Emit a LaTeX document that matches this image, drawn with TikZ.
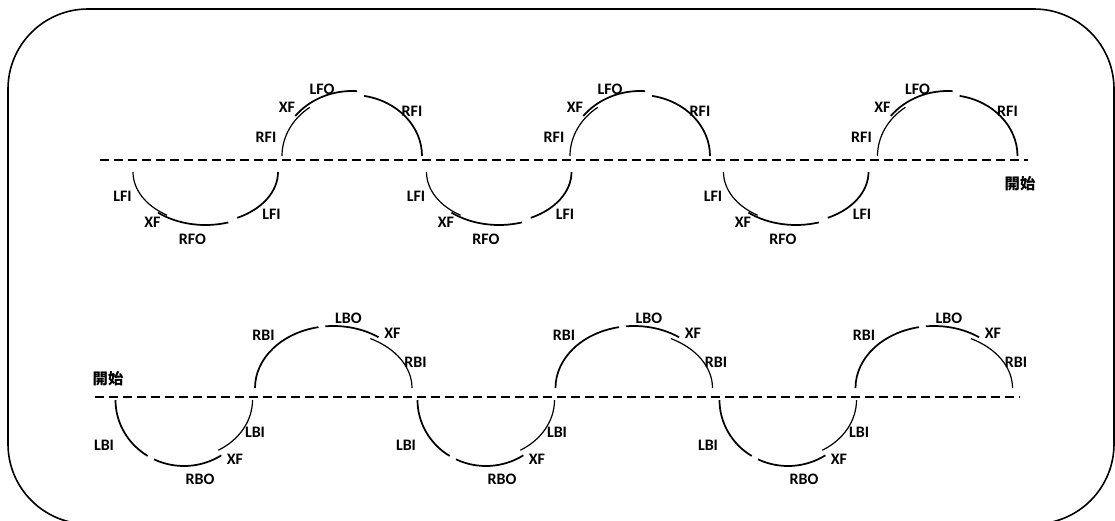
\documentclass[tikz,border=0pt]{standalone}
\usepackage{fontspec}
\setmainfont{Carlito}
\newfontfamily\cjk{Noto Sans CJK TC}
\usetikzlibrary{positioning}
\tikzset{
lbl/.style={font=\fontsize{12}{14}\selectfont\bfseries,inner sep=0pt},
start lbl/.style={font=\fontsize{11.5}{14}\selectfont\cjk\bfseries,inner sep=0pt},
bow/.style={line width=1.3pt},
thin bow/.style={line width=0.9pt},
base line/.style={line width=1.4pt,dash pattern=on 6.5pt off 4pt},
frame/.style={line width=1.2pt,rounded corners=60pt}}
% one piece of a half ellipse: [style] cx, cy, rx, ry, from, to
\newcommand{\arcpiece}[7][bow]{%
\draw[#1] ([shift={(#6:#4 and #5)}]#2,#3) arc[start angle=#6,end angle=#7,x radius=#4,y radius=#5];}

\begin{document}
\begin{tikzpicture}[x=0.75pt,y=0.75pt]

\useasboundingbox (0,0) rectangle (1115,-521);
\clip (0,0) rectangle (1115,-521);
\draw[frame] (8,-9) rectangle (1114,-524);

% base lines
\coordinate (top west) at (100,-160);
\coordinate (top east) at (1028,-160);
\coordinate (bot west) at (95,-397);
\coordinate (bot east) at (1020,-397);
\draw[base line] (top west) -- (top east);
\draw[base line] (bot west) -- (bot east);

\node[start lbl] (start top) at (1020,-184) {開始};
\node[start lbl] (start bot) at (108,-379) {開始};

% upper row
\foreach \cx/\lx/\i in {352/205.5/1,640/499/2,947.5/796/3}{
\arcpiece[thin bow]{\cx}{-156}{70}{61}{180}{127}
\arcpiece{\cx}{-156}{72}{65}{142}{86}
\arcpiece{\cx}{-156}{70}{61}{80}{0}
\arcpiece[thin bow]{\lx}{-172}{72.5}{51}{180}{238}
\arcpiece{\lx}{-172}{74}{53}{230}{288}
\arcpiece{\lx}{-172}{72.5}{51}{296}{360}
\node[lbl] (lfo\i) at (\cx-30,-89) {LFO};
\node[lbl] (xfa\i) at (\cx-65,-107) {XF};
\node[lbl] (rfia\i) at (\cx+60,-111) {RFI};
\node[lbl] (rfib\i) at (\cx-86,-137) {RFI};
\node[lbl] (lfia\i) at (\lx-83,-196) {LFI};
\node[lbl] (xfb\i) at (\lx-53,-222) {XF};
\node[lbl] (rfo\i) at (\lx-13,-239) {RFO};
\node[lbl] (lfib\i) at (\lx+66,-214) {LFI};
}

% lower row
\foreach \ux/\bx/\i in {333.5/184/1,634/486/2,934/788/3}{
\arcpiece{\ux}{-388}{78.5}{62}{180}{101}
\arcpiece{\ux}{-388}{78.5}{62}{96}{55}
\arcpiece[thin bow]{\ux}{-388}{78.5}{56}{62}{0}
\arcpiece{\bx}{-400}{68.5}{66}{180}{238}
\arcpiece{\bx}{-400}{68.5}{66}{244}{303}
\arcpiece[thin bow]{\bx}{-400}{68.5}{58}{300}{360}
\node[lbl] (rbia\i) at (\ux-70,-335) {RBI};
\node[lbl] (lbo\i) at (\ux+15,-318) {LBO};
\node[lbl] (xfc\i) at (\ux+59,-333) {XF};
\node[lbl] (rbib\i) at (\ux+82,-362) {RBI};
\node[lbl] (lbia\i) at (\bx-80,-445) {LBI};
\node[lbl] (lbib\i) at (\bx+71,-432) {LBI};
\node[lbl] (xfd\i) at (\bx+51,-459) {XF};
\node[lbl] (rbo\i) at (\bx+16,-479) {RBO};
}

\end{tikzpicture}
\end{document}
